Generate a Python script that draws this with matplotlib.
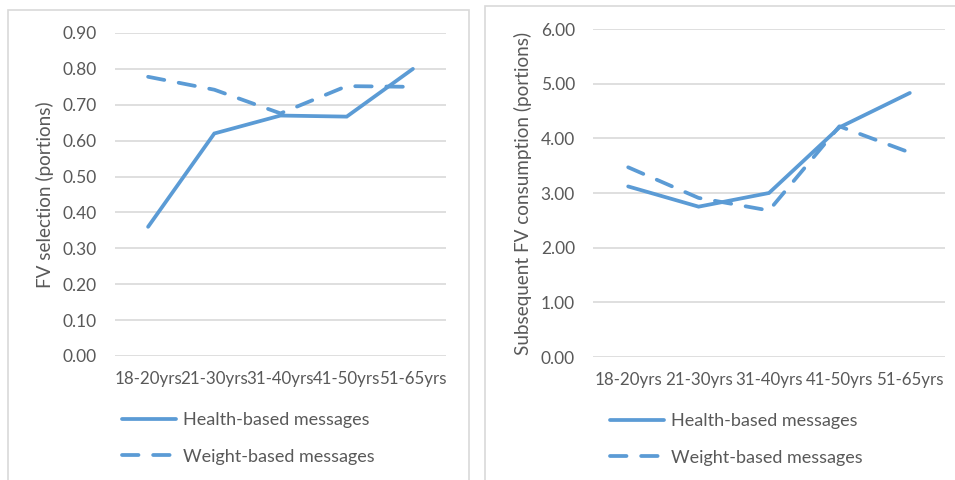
import matplotlib
matplotlib.use("Agg")
import matplotlib.pyplot as plt
from matplotlib.patches import Rectangle

# age bands and mean portions per message type
age_groups = ["18-20yrs", "21-30yrs", "31-40yrs", "41-50yrs", "51-65yrs"]

selection_health = [0.36, 0.62, 0.67, 0.667, 0.80]
selection_weight = [0.778, 0.742, 0.676, 0.752, 0.75]

consumption_health = [3.12, 2.75, 3.00, 4.20, 4.83]
consumption_weight = [3.47, 2.91, 2.68, 4.22, 3.74]

BLUE = "#5B9BD5"
GRID = "#D9D9D9"
TEXT = "#595959"
FONT = "Lato"
FS = 12.2
LW = 2.7

plt.rcParams["font.family"] = [FONT, "DejaVu Sans"]

W, H = 955, 480
fig = plt.figure(figsize=(W / 100, H / 100), dpi=100)


def px_axes(x0, x1, ytop, ybot):
    return fig.add_axes([x0 / W, (H - ybot) / H, (x1 - x0) / W, (ybot - ytop) / H])


def panel(x0, y0, x1, y1):
    fig.patches.append(Rectangle((x0 / W, (H - y1) / H), (x1 - x0) / W, (y1 - y0) / H,
                                 transform=fig.transFigure, fill=False,
                                 edgecolor=GRID, linewidth=1.2))


def style(ax, ymax, step, ylabel, labelpad):
    n = int(round(ymax / step)) + 1
    ax.set_xlim(-0.5, len(age_groups) - 0.5)
    ax.set_ylim(0, ymax)
    ax.set_yticks([i * step for i in range(n)])
    ax.set_yticklabels([f"{i * step:.2f}" for i in range(n)])
    ax.set_xticks(range(len(age_groups)))
    ax.set_xticklabels(age_groups)
    for s in ax.spines.values():
        s.set_visible(False)
    ax.tick_params(length=0, labelsize=FS, labelcolor=TEXT)
    ax.tick_params(axis="y", labelsize=12.5, pad=13)
    ax.tick_params(axis="x", pad=11)
    ax.grid(axis="y", color=GRID, linewidth=1.2)
    ax.set_axisbelow(True)
    ax.set_ylabel(ylabel, fontsize=13.6, color=TEXT, labelpad=labelpad)


def draw(ax, health, weight):
    ax.plot(range(len(age_groups)), health, color=BLUE, linewidth=LW,
            solid_capstyle="round", solid_joinstyle="miter", label="Health-based messages")
    ax.plot(range(len(age_groups)), weight, color=BLUE, linewidth=LW,
            dashes=(4.4, 3.9), dash_capstyle="round", label="Weight-based messages")


def legend(ax, x, ytop):
    ax.legend(loc="upper left", bbox_to_anchor=(x / W, (H - ytop) / H),
              bbox_transform=fig.transFigure, frameon=False, fontsize=13,
              labelcolor=TEXT, handlelength=3.0, handletextpad=0.4, labelspacing=1.15,
              borderpad=0, borderaxespad=0)


panel(8, 10, 469, 490)
panel(485, 6, 965, 490)

ax1 = px_axes(115, 446, 33, 356)
draw(ax1, selection_health, selection_weight)
style(ax1, 0.9, 0.1, "FV selection (portions)", 6)
legend(ax1, 122, 412)

ax2 = px_axes(593, 945, 29, 357)
draw(ax2, consumption_health, consumption_weight)
style(ax2, 6.0, 1.0, "Subsequent FV consumption (portions)", 6)
legend(ax2, 610, 413)

fig.savefig("out.png", dpi=100, facecolor="white")
